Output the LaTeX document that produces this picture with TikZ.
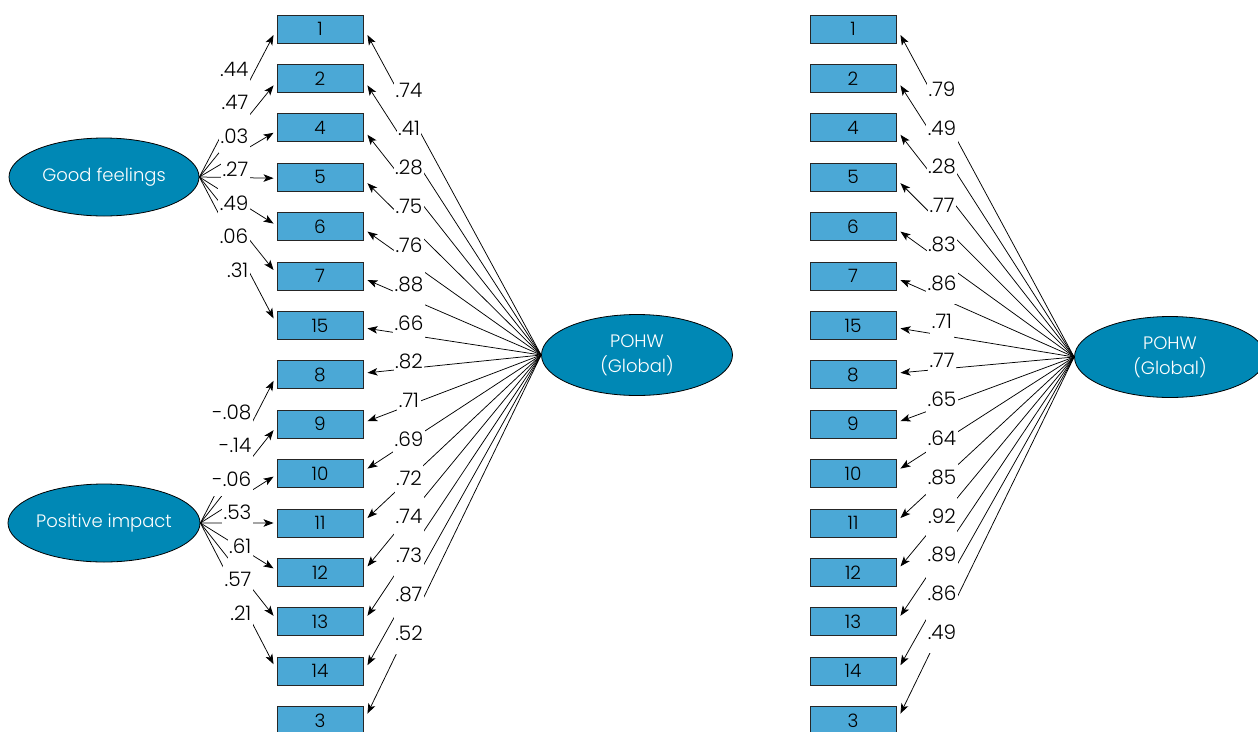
\documentclass[tikz,border=0pt]{standalone}
\usepackage{fontspec}
\setmainfont{Poppins}[UprightFont=* Light]
\usetikzlibrary{arrows.meta,calc,shapes.geometric}
\definecolor{boxblue}{RGB}{75,168,214}
\definecolor{latblue}{RGB}{0,136,181}
\tikzset{
  item/.style={draw=black!85, fill=boxblue, minimum width=86pt, minimum height=28pt, inner sep=0pt, font=\fontsize{18.5}{20}\selectfont, line width=0.9pt},
  latent/.style={ellipse, draw=black, fill=latblue, text=white, line width=0.8pt, inner sep=0pt, font=\fontsize{18}{25}\selectfont, align=center},
  load/.style={draw=black, line width=0.75pt, -{Stealth[length=10pt,width=7.5pt,inset=2.5pt]}},
  coef/.style={fill=white, inner xsep=1.5pt, font=\fontsize{20}{20}\selectfont},
  fcoef/.style={coef, anchor=east, inner ysep=10pt},
  gcoef/.style={coef, inner ysep=13pt},
}
\begin{document}
\begin{tikzpicture}[x=1pt,y=-1pt]
\useasboundingbox (0,0) rectangle (1258,731);
\clip (0,0) rectangle (1258,731);
% indicator boxes
\foreach \n [count=\i from 0] in {1,2,4,5,6,7,15,8,9,10,11,12,13,14,3} {
  \node[item] (L\n) at (320, 29+49.4*\i) {\n};
  \node[item] (R\n) at (853, 29+49.4*\i) {\n};
}
% latent variables
\node[latent, minimum width=190pt, minimum height=78pt] (GF) at (104,177) {Good feelings};
\node[latent, minimum width=190pt, minimum height=78pt] (PI) at (104,523) {Positive impact};
\node[latent, minimum width=191pt, minimum height=81pt] (G1) at (637,355) {POHW\\(Global)};
\node[latent, minimum width=191pt, minimum height=81pt] (G2) at (1170,357) {POHW\\(Global)};
% loadings of the two factors
\foreach \n/\o in {1/6,2/7,4/5,5/1,6/-3,7/-6,15/-7}
  \draw[load] (GF.east) -- ($(L\n.west)+(-3,\o)$);
\foreach \n/\o in {8/6,9/6,10/3,11/0,12/-4,13/-6,14/-7}
  \draw[load] (PI.east) -- ($(L\n.west)+(-3,\o)$);
% loadings of the global factor
\foreach \n/\o in {1/6,2/7,4/7,5/6,6/5,7/4,15/3,8/-2,9/-3,10/-5,11/-5,12/-6,13/-6,14/-6,3/-7} {
  \draw[load] (G1.west) -- ($(L\n.east)+(4,\o)$);
  \draw[load] (G2.west) -- ($(R\n.east)+(4,\o)$);
}
% coefficients
\foreach \v [count=\i from 0] in {.44,.47,.03,.27,.49,.06,.31}
  \node[fcoef] (gf\i) at (250, 69+33.5*\i) {\v};
\foreach \v [count=\i from 0] in {-.08,-.14,-.06,.53,.61,.57,.21}
  \node[fcoef] (pi\i) at (253, 412+33.5*\i) {\v};
\foreach \v [count=\i from 0] in {.74,.41,.28,.75,.76,.88,.66,.82,.71,.69,.72,.74,.73,.87,.52}
  \node[gcoef] (ga\i) at (409, 90+38.8*\i) {\v};
\foreach \v [count=\i from 0] in {.79,.49,.28,.77,.83,.86,.71,.77,.65,.64,.85,.92,.89,.86,.49}
  \node[gcoef] (gb\i) at (942, 89+38.8*\i) {\v};
\end{tikzpicture}
\end{document}
